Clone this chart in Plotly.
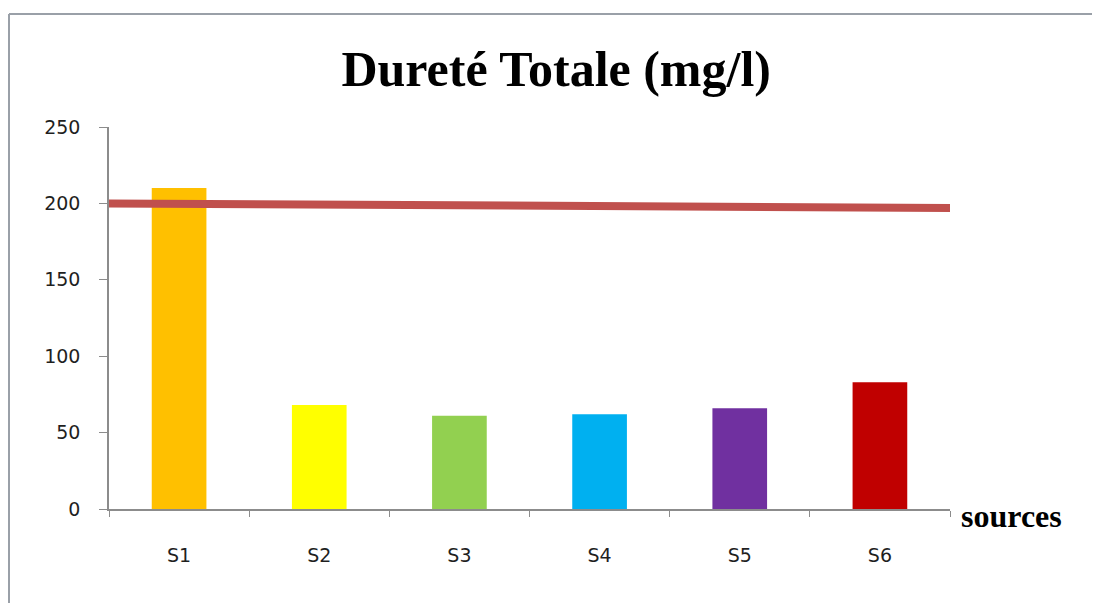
import plotly.graph_objects as go

sources = ["S1", "S2", "S3", "S4", "S5", "S6"]
durete = [210, 68, 61, 62, 66, 83]
bar_colors = ["#FFC000", "#FFFF00", "#92D050", "#00B0F0", "#7030A0", "#C00000"]

# norme (ligne rouge), légèrement inclinée dans l'original
norme_x = [0, 1]
norme_y = [200, 197]

fig = go.Figure()

fig.add_bar(
    x=sources,
    y=durete,
    marker=dict(color=bar_colors, line=dict(width=0)),
    showlegend=False,
)

fig.add_scatter(
    x=norme_x,
    y=norme_y,
    mode="lines",
    line=dict(color="#C0504D", width=8),
    xaxis="x2",
    showlegend=False,
)

tick_font = dict(family="DejaVu Sans", size=19, color="#1f1f1f")

fig.update_layout(
    width=1092,
    height=595,
    plot_bgcolor="white",
    paper_bgcolor="white",
    margin=dict(l=101, r=150, t=119, b=94),
    bargap=0.61,
    title=dict(
        text="<b>Dureté Totale (mg/l)</b>",
        font=dict(family="Liberation Serif, Times New Roman", size=50, color="black"),
        x=0.502,
        xanchor="center",
        y=0.899,
        yanchor="middle",
    ),
    xaxis=dict(
        showline=True,
        linecolor="#8c8c8c",
        linewidth=1.5,
        ticks="outside",
        tickson="boundaries",
        ticklen=6,
        tickcolor="#8c8c8c",
        tickfont=tick_font,
        ticklabelstandoff=28,
        showgrid=False,
        zeroline=False,
    ),
    xaxis2=dict(
        overlaying="x",
        range=[0, 1],
        visible=False,
    ),
    yaxis=dict(
        range=[0, 250],
        dtick=50,
        showline=True,
        linecolor="#8c8c8c",
        linewidth=1.5,
        ticks="outside",
        ticklen=8,
        tickcolor="#8c8c8c",
        tickfont=tick_font,
        ticklabelstandoff=15,
        showgrid=False,
        zeroline=False,
    ),
    annotations=[
        dict(
            text="<b>sources</b>",
            xref="paper",
            yref="paper",
            x=1.0107,
            y=-0.018,
            xanchor="left",
            yanchor="middle",
            showarrow=False,
            font=dict(family="Liberation Serif, Times New Roman", size=32, color="black"),
        )
    ],
    shapes=[
        dict(type="line", xref="paper", yref="paper", x0=-0.1189, x1=1.3, y0=1.2958, y1=1.2958,
             line=dict(color="#9aa0a8", width=2)),
        dict(type="line", xref="paper", yref="paper", x0=-0.1189, x1=-0.1189, y0=1.2958, y1=-0.3,
             line=dict(color="#9aa0a8", width=2)),
    ],
)

fig.write_html("out.html")
